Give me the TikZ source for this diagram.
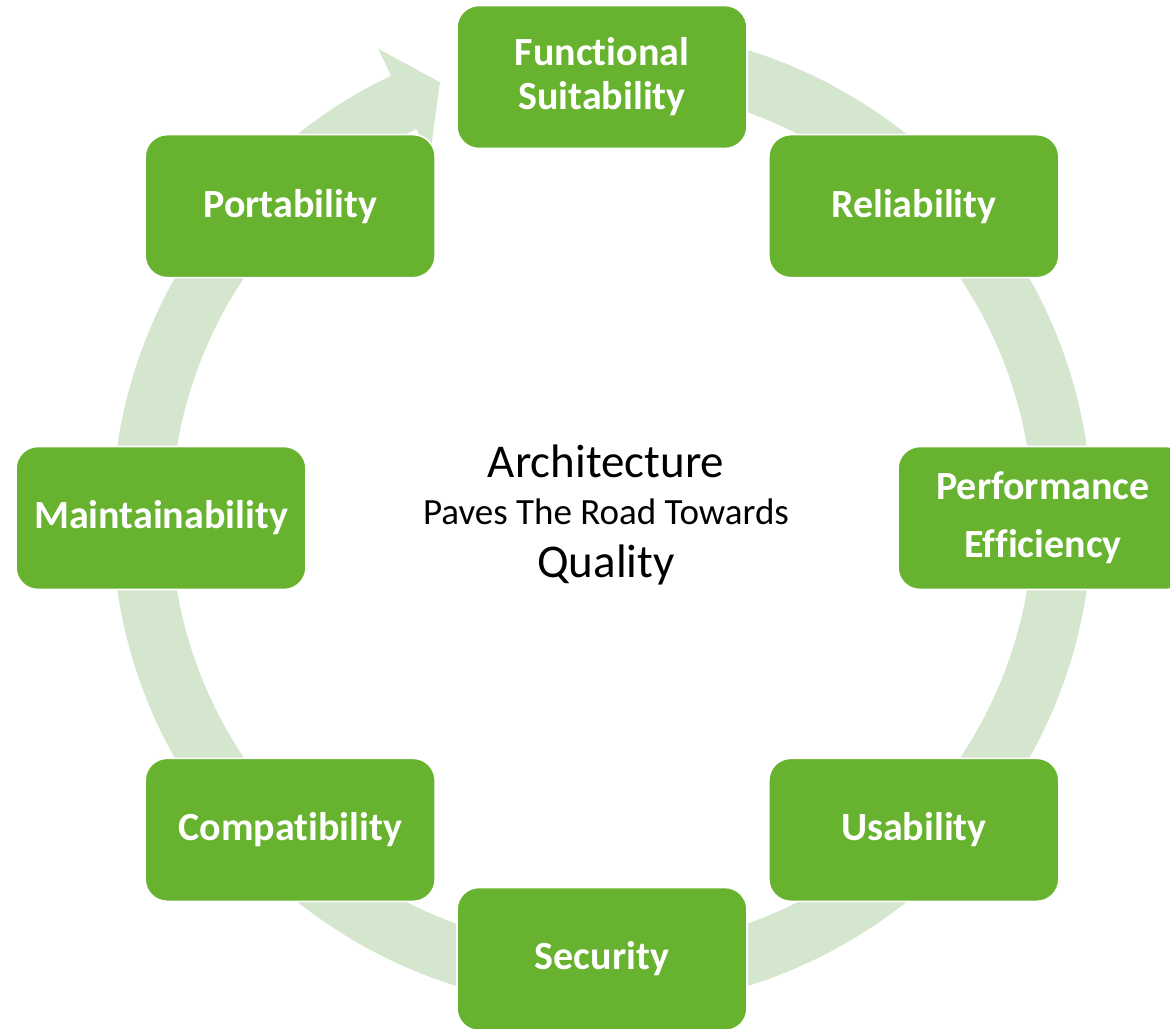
\documentclass[tikz,border=0pt]{standalone}
\usepackage{fontspec}
\setmainfont{Carlito}[RawFeature={-liga}]
\definecolor{boxgreen}{HTML}{67B32F}
\definecolor{ringgreen}{HTML}{D5E6CE}

\begin{document}
\begin{tikzpicture}[x=0.5pt,y=0.5pt,
  main node/.style={rectangle,rounded corners=11pt,fill=boxgreen,draw=white,line width=0.8pt,
    minimum width=145pt,minimum height=71.5pt,inner sep=0pt,align=center,text=white,
    font=\bfseries\fontsize{20}{22}\selectfont},
  centre text/.style={anchor=base,inner sep=0pt}]
  \useasboundingbox (-602,-510) rectangle (568,518);

  % ring arrow behind the boxes
  \fill[ringgreen] (90:490) arc[start angle=90,end angle=-244.5,radius=490]
    -- (-244.5:520) -- (-249.6:465) -- (-244.5:400) -- (-244.5:431)
    arc[start angle=-244.5,end angle=90,radius=431] -- cycle;

  \node[main node] (fs) at (90:441) {Functional\\Suitability};
  \node[main node] (rel) at (45:441) {Reliability};
  \node[main node,font=\bfseries\fontsize{20}{29}\selectfont] (perf) at (0:441) {Performance\\Efficiency};
  \node[main node] (usa) at (-45:441) {Usability};
  \node[main node] (sec) at (-90:441) {Security};
  \node[main node] (comp) at (-135:441) {Compatibility};
  \node[main node] (main) at (180:441) {Maintainability};
  \node[main node] (port) at (135:441) {Portability};

  \node[centre text,font=\fontsize{23.5}{26}\selectfont] (arch) at (4,41) {Architecture};
  \node[centre text,font=\fontsize{18.5}{21}\selectfont] (paves) at (4,-6) {Paves The Road Towards};
  \node[centre text,font=\fontsize{23.5}{26}\selectfont] (qual) at (4,-59) {Quality};
\end{tikzpicture}
\end{document}
